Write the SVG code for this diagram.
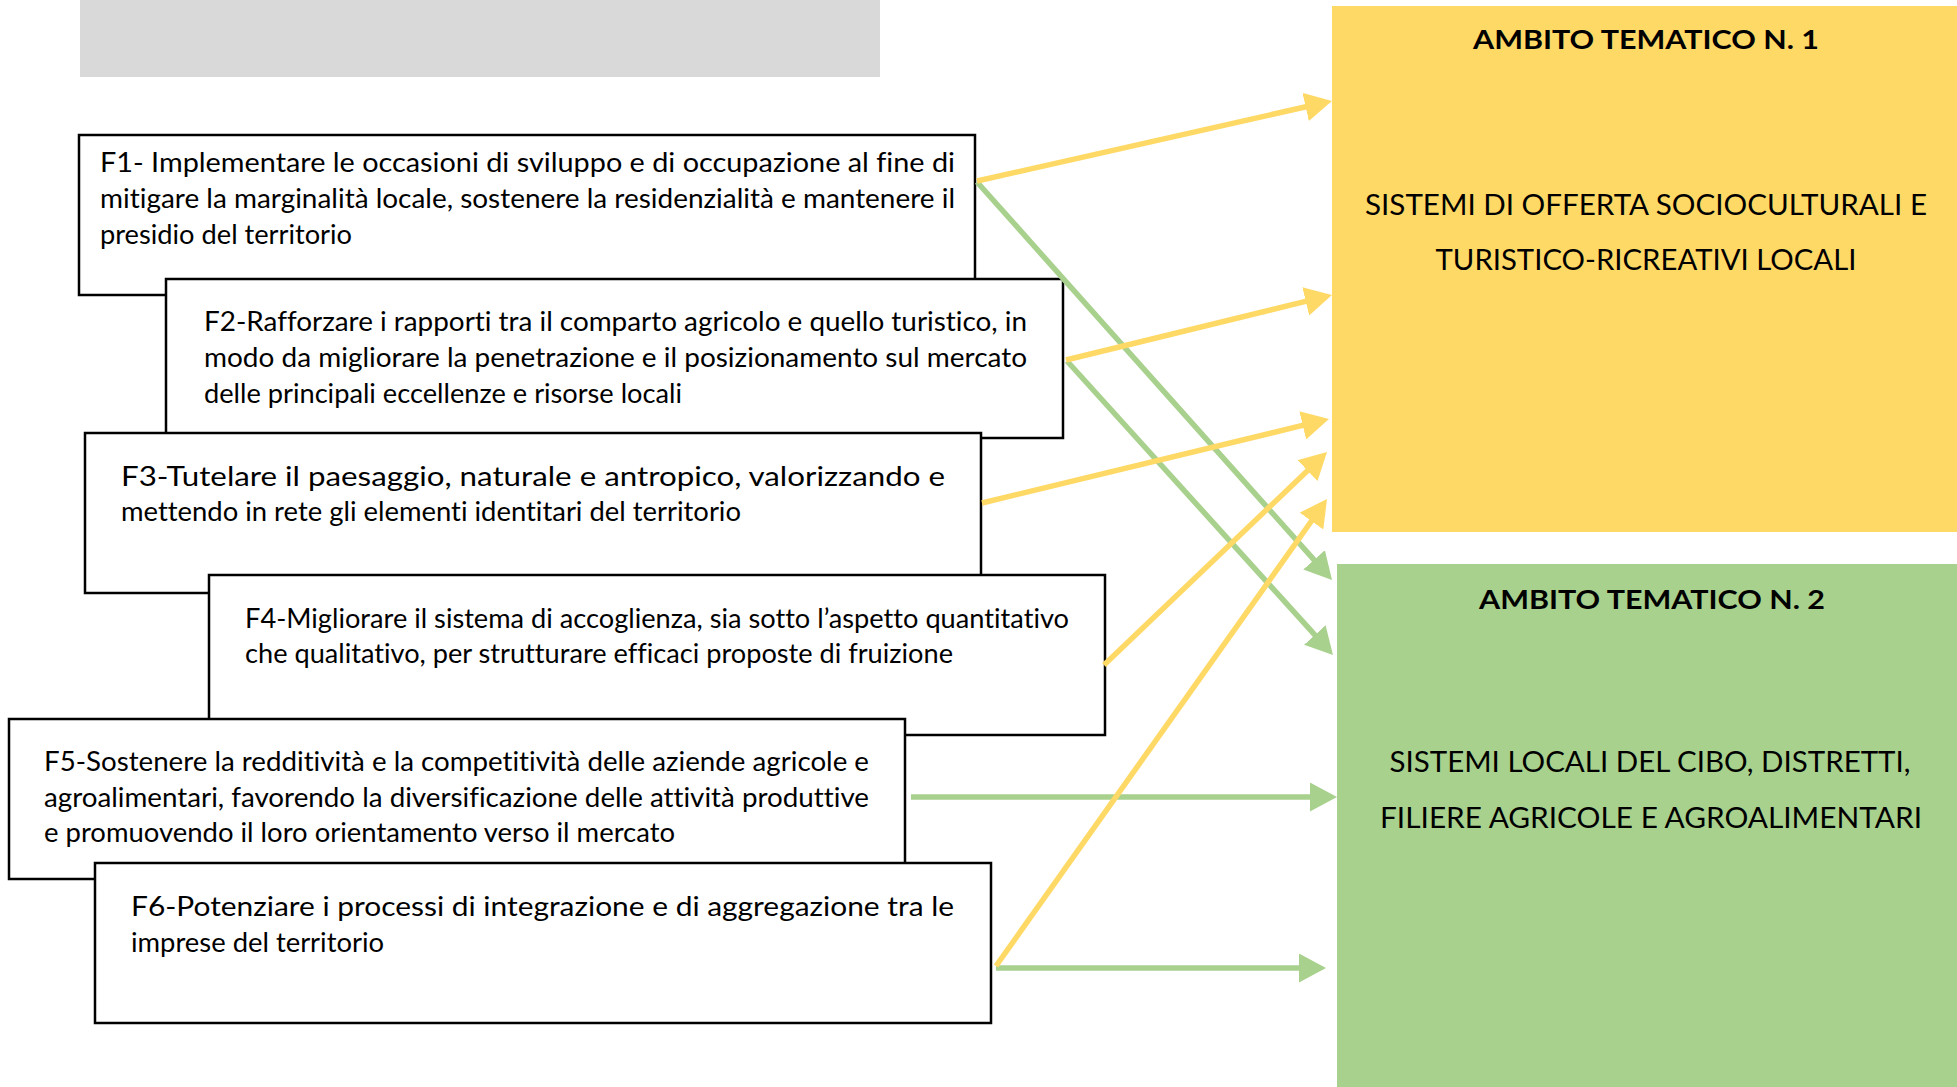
<svg xmlns="http://www.w3.org/2000/svg" width="1957" height="1087" viewBox="0 0 1957 1087">
<style>
.box{fill:#fff;stroke:#000;stroke-width:2.5}
.t{font-family:Lato,"Liberation Sans",sans-serif;font-size:27px;fill:#000;font-variant-ligatures:none}
.h{font-family:Lato,"Liberation Sans",sans-serif;font-size:27px;font-weight:bold;fill:#000;text-anchor:middle}
.c{font-family:Lato,"Liberation Sans",sans-serif;font-size:28px;fill:#000;text-anchor:middle;font-variant-ligatures:none}
.y{stroke:#FFD966;stroke-width:5.5;fill:none;marker-end:url(#ay)}
.g{stroke:#A9D18E;stroke-width:5.5;fill:none;marker-end:url(#ag)}
</style>
<defs>
<marker id="ay" markerUnits="userSpaceOnUse" viewBox="0 0 27 29" markerWidth="27" markerHeight="29" refX="5" refY="14.5" orient="auto"><path d="M0,0 L27,14.5 L0,29 Z" fill="#FFD966"/></marker>
<marker id="ag" markerUnits="userSpaceOnUse" viewBox="0 0 27 29" markerWidth="27" markerHeight="29" refX="5" refY="14.5" orient="auto"><path d="M0,0 L27,14.5 L0,29 Z" fill="#A9D18E"/></marker>
</defs>
<rect x="0" y="0" width="1957" height="1087" fill="#fff"/>
<rect id="header" x="80" y="0" width="800" height="77" fill="#D9D9D9"/>

<g id="ambito1">
<rect x="1332" y="6" width="625" height="526" fill="#FFD966"/>
<text class="h" x="1646" y="49" textLength="346" lengthAdjust="spacingAndGlyphs">AMBITO TEMATICO N. 1</text>
<text class="c" x="1646" y="215" textLength="562" lengthAdjust="spacingAndGlyphs">SISTEMI DI OFFERTA SOCIOCULTURALI E</text>
<text class="c" x="1646" y="270" textLength="421" lengthAdjust="spacingAndGlyphs">TURISTICO-RICREATIVI LOCALI</text>
</g>
<g id="ambito2">
<rect x="1337" y="564" width="620" height="523" fill="#A9D18E"/>
<text class="h" x="1652" y="609" textLength="346" lengthAdjust="spacingAndGlyphs">AMBITO TEMATICO N. 2</text>
<text class="c" x="1650" y="772" textLength="521" lengthAdjust="spacingAndGlyphs">SISTEMI LOCALI DEL CIBO, DISTRETTI,</text>
<text class="c" x="1651" y="828" textLength="542" lengthAdjust="spacingAndGlyphs">FILIERE AGRICOLE E AGROALIMENTARI</text>
</g>

<g id="F1">
<rect class="box" x="79" y="135" width="896" height="160"/>
<text class="t" x="100" y="172" textLength="855" lengthAdjust="spacingAndGlyphs">F1- Implementare le occasioni di sviluppo e di occupazione al fine di</text>
<text class="t" x="100" y="208" textLength="855" lengthAdjust="spacingAndGlyphs">mitigare la marginalità locale, sostenere la residenzialità e mantenere il</text>
<text class="t" x="100" y="244" textLength="252" lengthAdjust="spacingAndGlyphs">presidio del territorio</text>
</g>
<g id="F2">
<rect class="box" x="166" y="279" width="897" height="159"/>
<text class="t" x="204" y="331" textLength="823" lengthAdjust="spacingAndGlyphs">F2-Rafforzare i rapporti tra il comparto agricolo e quello turistico, in</text>
<text class="t" x="204" y="367" textLength="823" lengthAdjust="spacingAndGlyphs">modo da migliorare la penetrazione e il posizionamento sul mercato</text>
<text class="t" x="204" y="403" textLength="478" lengthAdjust="spacingAndGlyphs">delle principali eccellenze e risorse locali</text>
</g>
<g id="F3">
<rect class="box" x="85" y="433" width="896" height="160"/>
<text class="t" x="121" y="486" textLength="824" lengthAdjust="spacingAndGlyphs">F3-Tutelare il paesaggio, naturale e antropico, valorizzando e</text>
<text class="t" x="121" y="521" textLength="620" lengthAdjust="spacingAndGlyphs">mettendo in rete gli elementi identitari del territorio</text>
</g>
<g id="F4">
<rect class="box" x="209" y="575" width="896" height="160"/>
<text class="t" x="245" y="628" textLength="824" lengthAdjust="spacingAndGlyphs">F4-Migliorare il sistema di accoglienza, sia sotto l’aspetto quantitativo</text>
<text class="t" x="245" y="663" textLength="708" lengthAdjust="spacingAndGlyphs">che qualitativo, per strutturare efficaci proposte di fruizione</text>
</g>
<g id="F5">
<rect class="box" x="9" y="719" width="896" height="160"/>
<text class="t" x="44" y="771" textLength="825" lengthAdjust="spacingAndGlyphs">F5-Sostenere la redditività e la competitività delle aziende agricole e</text>
<text class="t" x="44" y="807" textLength="825" lengthAdjust="spacingAndGlyphs">agroalimentari, favorendo la diversificazione delle attività produttive</text>
<text class="t" x="44" y="842" textLength="631" lengthAdjust="spacingAndGlyphs">e promuovendo il loro orientamento verso il mercato</text>
</g>
<g id="F6">
<rect class="box" x="95" y="863" width="896" height="160"/>
<text class="t" x="131" y="916" textLength="823" lengthAdjust="spacingAndGlyphs">F6-Potenziare i processi di integrazione e di aggregazione tra le</text>
<text class="t" x="131" y="952" textLength="253" lengthAdjust="spacingAndGlyphs">imprese del territorio</text>
</g>

<g id="connectors">
<line class="g" x1="977" y1="182" x2="1317.4" y2="563.6"/>
<line class="g" x1="1067" y1="361" x2="1318.2" y2="638.7"/>
<line class="g" x1="911" y1="797" x2="1315" y2="797"/>
<line class="g" x1="996" y1="968" x2="1304" y2="968"/>
<line class="y" x1="977" y1="181" x2="1310.5" y2="105.8"/>
<line class="y" x1="1066" y1="360" x2="1310.6" y2="300.2"/>
<line class="y" x1="982" y1="503" x2="1307.6" y2="424.2"/>
<line class="y" x1="1104" y1="665" x2="1311.1" y2="467.2"/>
<line class="y" x1="996" y1="966" x2="1314.3" y2="517"/>
</g>
</svg>
